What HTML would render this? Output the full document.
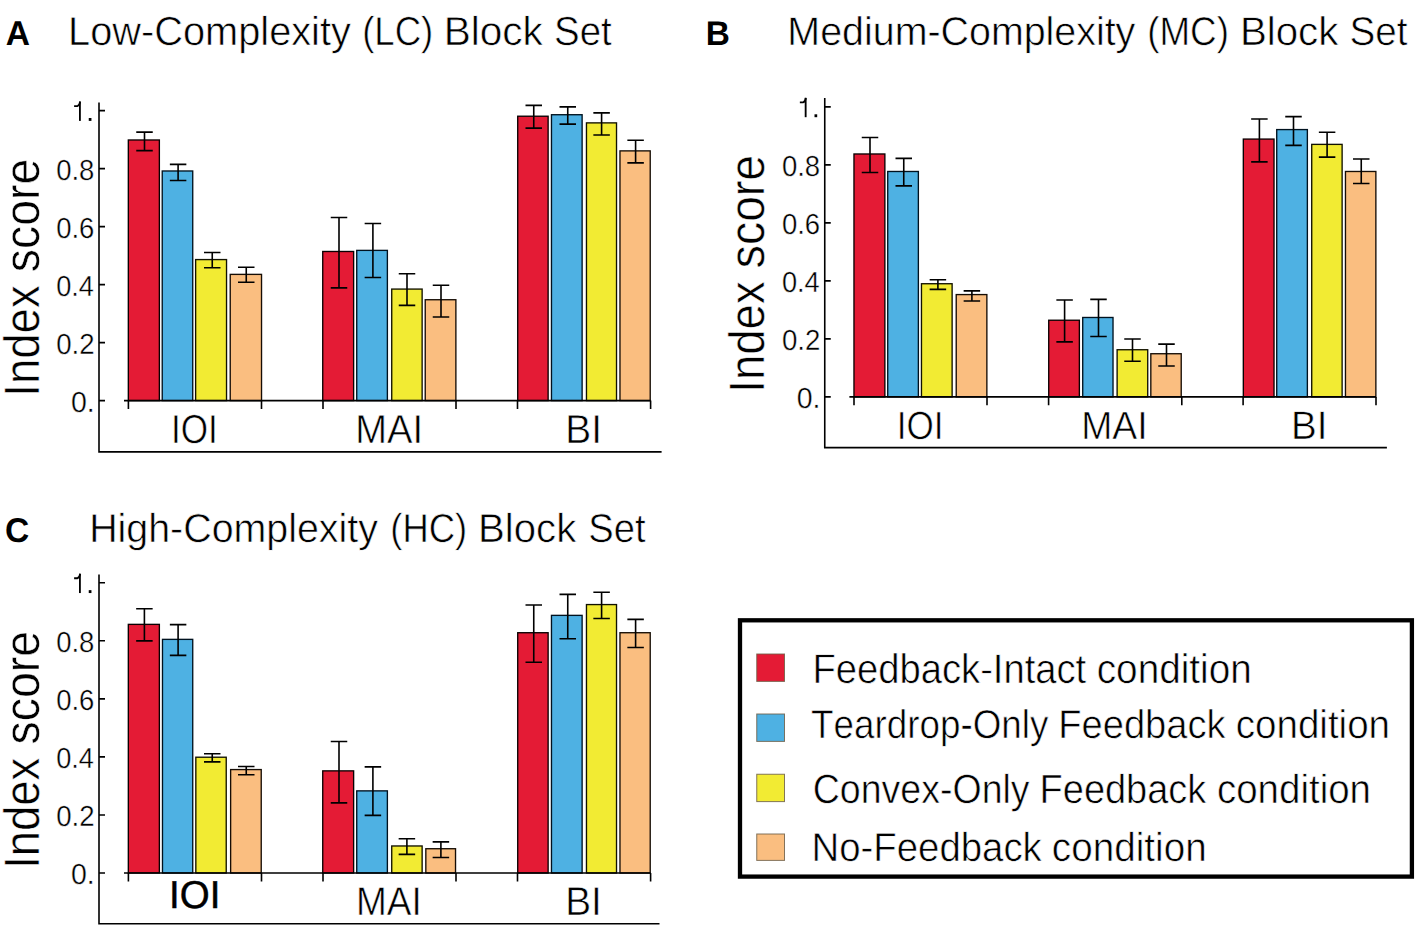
<!DOCTYPE html>
<html><head><meta charset="utf-8"><style>
html,body{margin:0;padding:0;background:#fff;}
svg{display:block;}
text{font-family:"Liberation Sans",sans-serif;font-kerning:none;fill:#000;text-rendering:geometricPrecision;}
</style></head><body>
<svg width="1417" height="928" viewBox="0 0 1417 928">
<rect width="1417" height="928" fill="#fff"/>
<rect x="128.32" y="139.98" width="31.05" height="260.62" fill="#E41B35" stroke="#0a0002" stroke-width="1.35"/>
<rect x="162.23" y="170.98" width="30.50" height="229.62" fill="#4EB1E3" stroke="#00121f" stroke-width="1.35"/>
<rect x="195.63" y="259.58" width="30.90" height="141.02" fill="#F2EB33" stroke="#121200" stroke-width="1.35"/>
<rect x="230.23" y="274.38" width="31.30" height="126.23" fill="#FABE80" stroke="#160d05" stroke-width="1.35"/>
<rect x="322.73" y="251.48" width="30.90" height="149.12" fill="#E41B35" stroke="#0a0002" stroke-width="1.35"/>
<rect x="356.73" y="250.38" width="30.65" height="150.22" fill="#4EB1E3" stroke="#00121f" stroke-width="1.35"/>
<rect x="391.73" y="289.08" width="30.40" height="111.52" fill="#F2EB33" stroke="#121200" stroke-width="1.35"/>
<rect x="425.23" y="299.73" width="30.65" height="100.88" fill="#FABE80" stroke="#160d05" stroke-width="1.35"/>
<rect x="517.72" y="116.22" width="30.40" height="284.38" fill="#E41B35" stroke="#0a0002" stroke-width="1.35"/>
<rect x="551.47" y="114.72" width="30.65" height="285.88" fill="#4EB1E3" stroke="#00121f" stroke-width="1.35"/>
<rect x="586.47" y="122.88" width="30.05" height="277.73" fill="#F2EB33" stroke="#121200" stroke-width="1.35"/>
<rect x="619.97" y="150.88" width="30.25" height="249.72" fill="#FABE80" stroke="#160d05" stroke-width="1.35"/>
<path d="M144.50 132.10V150.60M136.25 132.10H152.75M136.25 150.60H152.75" stroke="#000" stroke-width="1.60" fill="none"/>
<path d="M178.10 164.40V180.50M169.85 164.40H186.35M169.85 180.50H186.35" stroke="#000" stroke-width="1.60" fill="none"/>
<path d="M212.25 252.50V267.75M204.00 252.50H220.50M204.00 267.75H220.50" stroke="#000" stroke-width="1.60" fill="none"/>
<path d="M246.25 267.25V282.25M238.00 267.25H254.50M238.00 282.25H254.50" stroke="#000" stroke-width="1.60" fill="none"/>
<path d="M339.00 217.50V287.90M330.75 217.50H347.25M330.75 287.90H347.25" stroke="#000" stroke-width="1.60" fill="none"/>
<path d="M372.90 223.50V277.50M364.65 223.50H381.15M364.65 277.50H381.15" stroke="#000" stroke-width="1.60" fill="none"/>
<path d="M407.00 273.75V305.40M398.75 273.75H415.25M398.75 305.40H415.25" stroke="#000" stroke-width="1.60" fill="none"/>
<path d="M441.00 285.25V317.00M432.75 285.25H449.25M432.75 317.00H449.25" stroke="#000" stroke-width="1.60" fill="none"/>
<path d="M533.75 105.40V128.10M525.50 105.40H542.00M525.50 128.10H542.00" stroke="#000" stroke-width="1.60" fill="none"/>
<path d="M567.75 106.90V124.10M559.50 106.90H576.00M559.50 124.10H576.00" stroke="#000" stroke-width="1.60" fill="none"/>
<path d="M601.60 112.90V135.00M593.35 112.90H609.85M593.35 135.00H609.85" stroke="#000" stroke-width="1.60" fill="none"/>
<path d="M635.60 140.25V162.90M627.35 140.25H643.85M627.35 162.90H643.85" stroke="#000" stroke-width="1.60" fill="none"/>
<path d="M99.00 102.50V451.90H661.60" stroke="#000" stroke-width="1.60" fill="none"/>
<path d="M99.00 110.60H105.00M99.00 168.60H105.00M99.00 226.60H105.00M99.00 284.60H105.00M99.00 342.60H105.00M99.00 400.60H105.00" stroke="#000" stroke-width="1.60" fill="none"/>
<path d="M124.00 400.60H650.60M128.40 400.60V409.00M261.50 400.60V409.00M323.00 400.60V409.00M456.00 400.60V409.00M517.50 400.60V409.00M650.60 400.60V409.00" stroke="#000" stroke-width="1.60" fill="none"/>
<path d="M79.90 101.50V120.90" stroke="#000" stroke-width="1.85" fill="none"/>
<path d="M74.10 106.10H77.40Q79.40 105.70 80.10 101.70" stroke="#000" stroke-width="1.8" fill="none"/>
<rect x="88.75" y="118.00" width="2.7" height="2.9" fill="#000"/>
<text transform="translate(56.15 180.00) scale(0.9480 1)" font-size="29.00" font-weight="normal" stroke="#fff" stroke-width="0.35">0.8</text>
<text transform="translate(56.15 238.00) scale(0.9484 1)" font-size="29.00" font-weight="normal" stroke="#fff" stroke-width="0.35">0.6</text>
<text transform="translate(56.16 296.00) scale(0.9379 1)" font-size="29.00" font-weight="normal" stroke="#fff" stroke-width="0.35">0.4</text>
<text transform="translate(56.15 354.00) scale(0.9530 1)" font-size="29.00" font-weight="normal" stroke="#fff" stroke-width="0.35">0.2</text>
<text transform="translate(70.91 412.00) scale(0.9826 1)" font-size="29.00" font-weight="normal" stroke="#fff" stroke-width="0.35">0.</text>
<rect x="853.97" y="153.98" width="30.90" height="242.92" fill="#E41B35" stroke="#0a0002" stroke-width="1.35"/>
<rect x="887.72" y="171.48" width="30.65" height="225.42" fill="#4EB1E3" stroke="#00121f" stroke-width="1.35"/>
<rect x="921.47" y="283.73" width="30.65" height="113.17" fill="#F2EB33" stroke="#121200" stroke-width="1.35"/>
<rect x="956.22" y="294.58" width="30.65" height="102.32" fill="#FABE80" stroke="#160d05" stroke-width="1.35"/>
<rect x="1048.72" y="320.23" width="30.65" height="76.67" fill="#E41B35" stroke="#0a0002" stroke-width="1.35"/>
<rect x="1082.72" y="317.48" width="30.30" height="79.42" fill="#4EB1E3" stroke="#00121f" stroke-width="1.35"/>
<rect x="1117.12" y="349.73" width="30.60" height="47.17" fill="#F2EB33" stroke="#121200" stroke-width="1.35"/>
<rect x="1150.82" y="353.73" width="30.40" height="43.17" fill="#FABE80" stroke="#160d05" stroke-width="1.35"/>
<rect x="1243.32" y="139.08" width="30.70" height="257.82" fill="#E41B35" stroke="#0a0002" stroke-width="1.35"/>
<rect x="1276.72" y="129.58" width="30.65" height="267.32" fill="#4EB1E3" stroke="#00121f" stroke-width="1.35"/>
<rect x="1311.72" y="144.38" width="30.40" height="252.52" fill="#F2EB33" stroke="#121200" stroke-width="1.35"/>
<rect x="1345.47" y="171.48" width="30.40" height="225.42" fill="#FABE80" stroke="#160d05" stroke-width="1.35"/>
<path d="M870.00 137.50V172.50M861.75 137.50H878.25M861.75 172.50H878.25" stroke="#000" stroke-width="1.60" fill="none"/>
<path d="M903.75 158.40V185.90M895.50 158.40H912.00M895.50 185.90H912.00" stroke="#000" stroke-width="1.60" fill="none"/>
<path d="M937.90 279.75V289.40M929.65 279.75H946.15M929.65 289.40H946.15" stroke="#000" stroke-width="1.60" fill="none"/>
<path d="M971.90 290.90V301.00M963.65 290.90H980.15M963.65 301.00H980.15" stroke="#000" stroke-width="1.60" fill="none"/>
<path d="M1064.60 300.00V341.90M1056.35 300.00H1072.85M1056.35 341.90H1072.85" stroke="#000" stroke-width="1.60" fill="none"/>
<path d="M1098.50 299.40V336.50M1090.25 299.40H1106.75M1090.25 336.50H1106.75" stroke="#000" stroke-width="1.60" fill="none"/>
<path d="M1132.50 339.00V361.25M1124.25 339.00H1140.75M1124.25 361.25H1140.75" stroke="#000" stroke-width="1.60" fill="none"/>
<path d="M1166.50 344.10V366.00M1158.25 344.10H1174.75M1158.25 366.00H1174.75" stroke="#000" stroke-width="1.60" fill="none"/>
<path d="M1259.40 119.00V161.90M1251.15 119.00H1267.65M1251.15 161.90H1267.65" stroke="#000" stroke-width="1.60" fill="none"/>
<path d="M1293.50 116.60V145.40M1285.25 116.60H1301.75M1285.25 145.40H1301.75" stroke="#000" stroke-width="1.60" fill="none"/>
<path d="M1327.10 132.25V157.10M1318.85 132.25H1335.35M1318.85 157.10H1335.35" stroke="#000" stroke-width="1.60" fill="none"/>
<path d="M1361.25 159.00V183.50M1353.00 159.00H1369.50M1353.00 183.50H1369.50" stroke="#000" stroke-width="1.60" fill="none"/>
<path d="M824.75 98.10V447.60H1386.90" stroke="#000" stroke-width="1.60" fill="none"/>
<path d="M824.75 106.90H830.75M824.75 164.90H830.75M824.75 222.90H830.75M824.75 280.90H830.75M824.75 338.90H830.75M824.75 396.90H830.75" stroke="#000" stroke-width="1.60" fill="none"/>
<path d="M849.40 396.90H1376.00M854.00 396.90V405.25M987.00 396.90V405.25M1048.60 396.90V405.25M1181.80 396.90V405.25M1243.10 396.90V405.25M1376.00 396.90V405.25" stroke="#000" stroke-width="1.60" fill="none"/>
<path d="M805.65 97.80V117.20" stroke="#000" stroke-width="1.85" fill="none"/>
<path d="M799.85 102.40H803.15Q805.15 102.00 805.85 98.00" stroke="#000" stroke-width="1.8" fill="none"/>
<rect x="814.50" y="114.30" width="2.7" height="2.9" fill="#000"/>
<text transform="translate(781.90 176.00) scale(0.9480 1)" font-size="29.00" font-weight="normal" stroke="#fff" stroke-width="0.35">0.8</text>
<text transform="translate(781.90 234.00) scale(0.9484 1)" font-size="29.00" font-weight="normal" stroke="#fff" stroke-width="0.35">0.6</text>
<text transform="translate(781.91 292.00) scale(0.9379 1)" font-size="29.00" font-weight="normal" stroke="#fff" stroke-width="0.35">0.4</text>
<text transform="translate(781.90 350.00) scale(0.9530 1)" font-size="29.00" font-weight="normal" stroke="#fff" stroke-width="0.35">0.2</text>
<text transform="translate(796.66 408.00) scale(0.9826 1)" font-size="29.00" font-weight="normal" stroke="#fff" stroke-width="0.35">0.</text>
<rect x="128.32" y="624.37" width="31.05" height="248.63" fill="#E41B35" stroke="#0a0002" stroke-width="1.35"/>
<rect x="162.48" y="639.37" width="30.25" height="233.63" fill="#4EB1E3" stroke="#00121f" stroke-width="1.35"/>
<rect x="195.83" y="757.22" width="30.40" height="115.78" fill="#F2EB33" stroke="#121200" stroke-width="1.35"/>
<rect x="230.63" y="769.57" width="30.60" height="103.43" fill="#FABE80" stroke="#160d05" stroke-width="1.35"/>
<rect x="322.73" y="770.87" width="30.90" height="102.13" fill="#E41B35" stroke="#0a0002" stroke-width="1.35"/>
<rect x="356.73" y="790.87" width="30.65" height="82.13" fill="#4EB1E3" stroke="#00121f" stroke-width="1.35"/>
<rect x="391.73" y="845.97" width="30.40" height="27.03" fill="#F2EB33" stroke="#121200" stroke-width="1.35"/>
<rect x="425.83" y="848.72" width="29.70" height="24.28" fill="#FABE80" stroke="#160d05" stroke-width="1.35"/>
<rect x="517.72" y="632.72" width="30.40" height="240.28" fill="#E41B35" stroke="#0a0002" stroke-width="1.35"/>
<rect x="551.47" y="615.37" width="30.65" height="257.63" fill="#4EB1E3" stroke="#00121f" stroke-width="1.35"/>
<rect x="586.47" y="604.57" width="30.05" height="268.43" fill="#F2EB33" stroke="#121200" stroke-width="1.35"/>
<rect x="619.97" y="632.72" width="30.25" height="240.28" fill="#FABE80" stroke="#160d05" stroke-width="1.35"/>
<path d="M144.40 608.75V640.90M136.15 608.75H152.65M136.15 640.90H152.65" stroke="#000" stroke-width="1.60" fill="none"/>
<path d="M178.10 624.60V655.40M169.85 624.60H186.35M169.85 655.40H186.35" stroke="#000" stroke-width="1.60" fill="none"/>
<path d="M212.25 753.75V761.90M204.00 753.75H220.50M204.00 761.90H220.50" stroke="#000" stroke-width="1.60" fill="none"/>
<path d="M246.25 766.50V774.75M238.00 766.50H254.50M238.00 774.75H254.50" stroke="#000" stroke-width="1.60" fill="none"/>
<path d="M339.00 741.50V802.90M330.75 741.50H347.25M330.75 802.90H347.25" stroke="#000" stroke-width="1.60" fill="none"/>
<path d="M372.90 766.90V815.40M364.65 766.90H381.15M364.65 815.40H381.15" stroke="#000" stroke-width="1.60" fill="none"/>
<path d="M406.90 838.75V854.40M398.65 838.75H415.15M398.65 854.40H415.15" stroke="#000" stroke-width="1.60" fill="none"/>
<path d="M440.90 841.90V857.50M432.65 841.90H449.15M432.65 857.50H449.15" stroke="#000" stroke-width="1.60" fill="none"/>
<path d="M533.75 605.00V662.25M525.50 605.00H542.00M525.50 662.25H542.00" stroke="#000" stroke-width="1.60" fill="none"/>
<path d="M567.75 594.40V638.75M559.50 594.40H576.00M559.50 638.75H576.00" stroke="#000" stroke-width="1.60" fill="none"/>
<path d="M601.60 592.25V618.50M593.35 592.25H609.85M593.35 618.50H609.85" stroke="#000" stroke-width="1.60" fill="none"/>
<path d="M635.60 619.40V647.50M627.35 619.40H643.85M627.35 647.50H643.85" stroke="#000" stroke-width="1.60" fill="none"/>
<path d="M99.00 574.60V923.80H659.50" stroke="#000" stroke-width="1.60" fill="none"/>
<path d="M99.00 582.75H105.00M99.00 640.80H105.00M99.00 698.85H105.00M99.00 756.90H105.00M99.00 814.95H105.00M99.00 873.00H105.00" stroke="#000" stroke-width="1.60" fill="none"/>
<path d="M124.00 873.00H650.60M128.40 873.00V881.50M261.50 873.00V881.50M323.00 873.00V881.50M456.00 873.00V881.50M517.50 873.00V881.50M650.60 873.00V881.50" stroke="#000" stroke-width="1.60" fill="none"/>
<path d="M79.90 573.65V593.05" stroke="#000" stroke-width="1.85" fill="none"/>
<path d="M74.10 578.25H77.40Q79.40 577.85 80.10 573.85" stroke="#000" stroke-width="1.8" fill="none"/>
<rect x="88.75" y="590.15" width="2.7" height="2.9" fill="#000"/>
<text transform="translate(56.15 652.00) scale(0.9480 1)" font-size="29.00" font-weight="normal" stroke="#fff" stroke-width="0.35">0.8</text>
<text transform="translate(56.15 710.00) scale(0.9484 1)" font-size="29.00" font-weight="normal" stroke="#fff" stroke-width="0.35">0.6</text>
<text transform="translate(56.16 768.00) scale(0.9379 1)" font-size="29.00" font-weight="normal" stroke="#fff" stroke-width="0.35">0.4</text>
<text transform="translate(56.15 826.00) scale(0.9530 1)" font-size="29.00" font-weight="normal" stroke="#fff" stroke-width="0.35">0.2</text>
<text transform="translate(70.91 884.00) scale(0.9826 1)" font-size="29.00" font-weight="normal" stroke="#fff" stroke-width="0.35">0.</text>
<text transform="translate(5.66 45.00) scale(0.9736 1)" font-size="34.45" font-weight="bold">A</text>
<text transform="translate(705.86 45.00) scale(0.9793 1)" font-size="34.16" font-weight="bold">B</text>
<text transform="translate(5.12 542.00) scale(0.9809 1)" font-size="34.30" font-weight="bold">C</text>
<text transform="translate(68.04 45.00) scale(0.9818 1)" font-size="40.51" font-weight="normal" stroke="#fff" stroke-width="0.60">Low-Complexity</text>
<text transform="translate(362.13 45.00) scale(0.9031 1)" font-size="40.51" font-weight="normal" stroke="#fff" stroke-width="0.60">(LC)</text>
<text transform="translate(443.67 45.00) scale(1.0020 1)" font-size="40.51" font-weight="normal" stroke="#fff" stroke-width="0.60">Block</text>
<text transform="translate(554.05 45.00) scale(0.9493 1)" font-size="40.51" font-weight="normal" stroke="#fff" stroke-width="0.60">Set</text>
<text transform="translate(787.37 45.00) scale(0.9803 1)" font-size="40.18" font-weight="normal" stroke="#fff" stroke-width="0.60">Medium-Complexity</text>
<text transform="translate(1147.32 45.00) scale(0.9138 1)" font-size="40.18" font-weight="normal" stroke="#fff" stroke-width="0.60">(MC)</text>
<text transform="translate(1239.90 45.00) scale(1.0020 1)" font-size="40.18" font-weight="normal" stroke="#fff" stroke-width="0.60">Block</text>
<text transform="translate(1349.55 45.00) scale(0.9607 1)" font-size="40.18" font-weight="normal" stroke="#fff" stroke-width="0.60">Set</text>
<text transform="translate(89.17 542.00) scale(0.9764 1)" font-size="40.32" font-weight="normal" stroke="#fff" stroke-width="0.60">High-Complexity</text>
<text transform="translate(390.34 542.00) scale(0.9026 1)" font-size="40.32" font-weight="normal" stroke="#fff" stroke-width="0.60">(HC)</text>
<text transform="translate(478.11 542.00) scale(0.9952 1)" font-size="40.32" font-weight="normal" stroke="#fff" stroke-width="0.60">Block</text>
<text transform="translate(588.37 542.00) scale(0.9469 1)" font-size="40.32" font-weight="normal" stroke="#fff" stroke-width="0.60">Set</text>
<text transform="translate(38.55 396.65) rotate(-90) scale(0.9135 1)" font-size="49.80" font-weight="normal" stroke="#fff" stroke-width="0.50">Index</text>
<text transform="translate(38.55 272.14) rotate(-90) scale(0.9316 1)" font-size="49.80" font-weight="normal" stroke="#fff" stroke-width="0.50">score</text>
<text transform="translate(764.40 392.65) rotate(-90) scale(0.9135 1)" font-size="49.80" font-weight="normal" stroke="#fff" stroke-width="0.50">Index</text>
<text transform="translate(764.40 268.14) rotate(-90) scale(0.9291 1)" font-size="49.80" font-weight="normal" stroke="#fff" stroke-width="0.50">score</text>
<text transform="translate(38.75 868.74) rotate(-90) scale(0.9109 1)" font-size="49.80" font-weight="normal" stroke="#fff" stroke-width="0.50">Index</text>
<text transform="translate(38.75 744.54) rotate(-90) scale(0.9329 1)" font-size="49.80" font-weight="normal" stroke="#fff" stroke-width="0.50">score</text>
<text transform="translate(170.92 443.00) scale(0.8658 1)" font-size="40.55" font-weight="normal" stroke="#fff" stroke-width="0.60">IOI</text>
<text transform="translate(355.17 443.00) scale(0.9411 1)" font-size="40.55" font-weight="normal" stroke="#fff" stroke-width="0.60">MAI</text>
<text transform="translate(565.26 443.00) scale(0.9585 1)" font-size="40.55" font-weight="normal" stroke="#fff" stroke-width="0.60">BI</text>
<text transform="translate(896.66 439.00) scale(0.8905 1)" font-size="39.39" font-weight="normal" stroke="#fff" stroke-width="0.60">IOI</text>
<text transform="translate(1081.14 439.00) scale(0.9483 1)" font-size="39.39" font-weight="normal" stroke="#fff" stroke-width="0.60">MAI</text>
<text transform="translate(1290.94 439.00) scale(0.9714 1)" font-size="39.68" font-weight="normal" stroke="#fff" stroke-width="0.60">BI</text>
<text transform="translate(169.05 908.00) scale(0.9913 1)" font-size="38.81" font-weight="normal" stroke="#000" stroke-width="0.5">IOI</text>
<text transform="translate(356.07 915.00) scale(0.9235 1)" font-size="40.04" font-weight="normal" stroke="#fff" stroke-width="0.60">MAI</text>
<text transform="translate(565.22 915.00) scale(0.9638 1)" font-size="40.26" font-weight="normal" stroke="#fff" stroke-width="0.60">BI</text>
<rect x="740.0" y="620.3" width="671.9" height="256.3" fill="none" stroke="#000" stroke-width="4.3"/>
<rect x="756.75" y="654.00" width="27.75" height="27.40" fill="#E41B35" stroke="#6e5f48" stroke-width="1.0" stroke-opacity="0.85"/>
<rect x="756.75" y="714.00" width="27.75" height="27.40" fill="#4EB1E3" stroke="#6e5f48" stroke-width="1.0" stroke-opacity="0.85"/>
<rect x="756.75" y="774.25" width="27.75" height="27.35" fill="#F2EB33" stroke="#6e5f48" stroke-width="1.0" stroke-opacity="0.85"/>
<rect x="756.75" y="834.00" width="27.75" height="26.40" fill="#FABE80" stroke="#6e5f48" stroke-width="1.0" stroke-opacity="0.85"/>
<text transform="translate(812.47 683.00) scale(0.9186 1)" font-size="41.57" font-weight="normal" stroke="#fff" stroke-width="0.60">Feedback-Intact</text>
<text transform="translate(1096.75 683.00) scale(0.9319 1)" font-size="41.57" font-weight="normal" stroke="#fff" stroke-width="0.60">condition</text>
<text transform="translate(811.07 738.00) scale(0.9203 1)" font-size="40.01" font-weight="normal" stroke="#fff" stroke-width="0.60">Teardrop-Only</text>
<text transform="translate(1058.27 738.00) scale(0.9525 1)" font-size="40.01" font-weight="normal" stroke="#fff" stroke-width="0.60">Feedback</text>
<text transform="translate(1235.76 738.00) scale(0.9636 1)" font-size="40.01" font-weight="normal" stroke="#fff" stroke-width="0.60">condition</text>
<text transform="translate(812.69 803.00) scale(0.9179 1)" font-size="40.90" font-weight="normal" stroke="#fff" stroke-width="0.60">Convex-Only</text>
<text transform="translate(1039.59 803.00) scale(0.9284 1)" font-size="40.90" font-weight="normal" stroke="#fff" stroke-width="0.60">Feedback</text>
<text transform="translate(1216.97 803.00) scale(0.9408 1)" font-size="40.90" font-weight="normal" stroke="#fff" stroke-width="0.60">condition</text>
<text transform="translate(811.45 861.00) scale(0.9518 1)" font-size="40.32" font-weight="normal" stroke="#fff" stroke-width="0.60">No-Feedback</text>
<text transform="translate(1051.86 861.00) scale(0.9593 1)" font-size="40.32" font-weight="normal" stroke="#fff" stroke-width="0.60">condition</text>
</svg>
</body></html>
